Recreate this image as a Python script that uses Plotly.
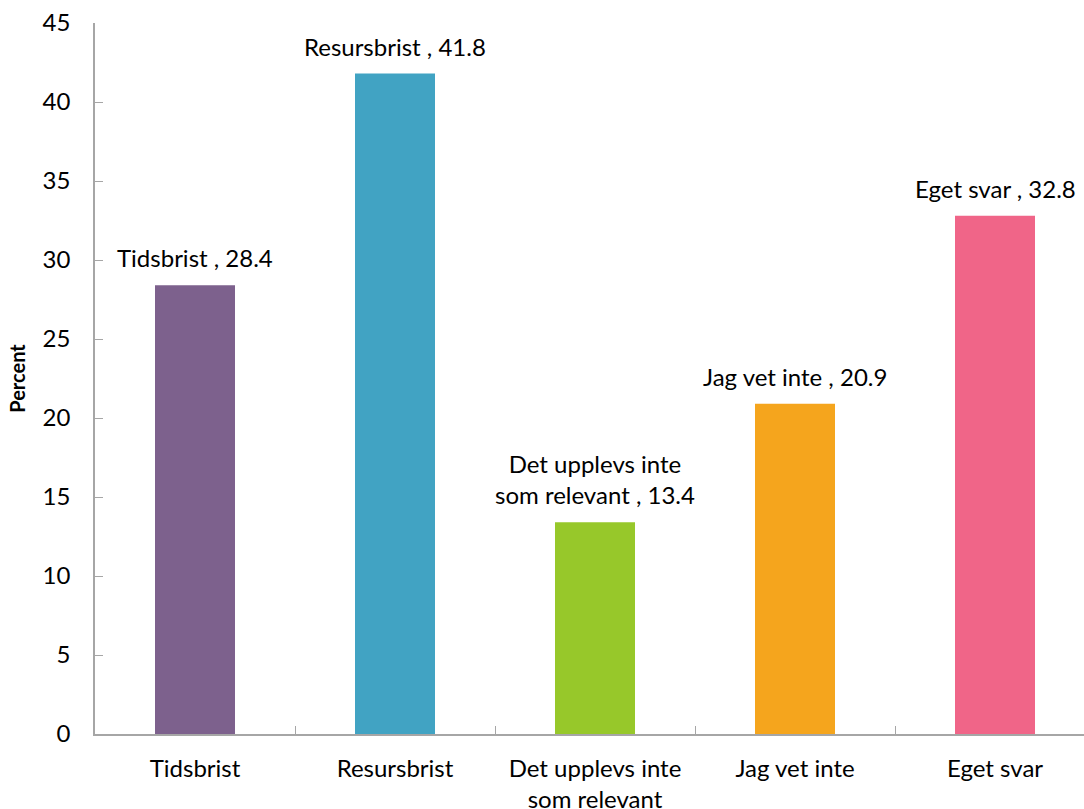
import plotly.graph_objects as go

categories = ["Tidsbrist", "Resursbrist", "Det upplevs inte<br>som relevant", "Jag vet inte", "Eget svar"]
label_names = ["Tidsbrist", "Resursbrist", "Det upplevs inte<br>som relevant", "Jag vet inte", "Eget svar"]
values = [28.4, 41.8, 13.4, 20.9, 32.8]
colors = ["#7D618D", "#41A3C3", "#97C82A", "#F5A51D", "#F06588"]

FONT = "Lato"

fig = go.Figure()
fig.add_trace(go.Bar(
    x=categories, y=values, marker=dict(color=colors, line=dict(width=0)),
    width=0.4, cliponaxis=False, showlegend=False,
))

for c, n, v in zip(categories, label_names, values):
    fig.add_annotation(
        x=c, y=v, text=f"{n} , {v}", showarrow=False, yanchor="bottom",
        yshift=11, font=dict(family=FONT, size=24, color="#000000"),
    )

fig.update_layout(
    width=1084, height=809,
    margin=dict(l=95, r=0, t=23, b=75, autoexpand=False),
    paper_bgcolor="white", plot_bgcolor="white",
    font=dict(family=FONT, size=24, color="#000000"),
    xaxis=dict(
        range=[-0.5, 4.445], showgrid=False, showline=True, linecolor="#A6A6A6", linewidth=1.5,
        ticks="inside", ticklen=8, tickcolor="#A6A6A6", tickson="boundaries",
        ticklabelstandoff=12, tickfont=dict(family=FONT, size=24), automargin=False,
    ),
    yaxis=dict(
        range=[0, 45], dtick=5, showgrid=False, showline=True, linecolor="#A6A6A6", linewidth=1.5,
        ticks="inside", ticklen=8, tickcolor="#A6A6A6", zeroline=False,
        ticklabelstandoff=18, tickfont=dict(family=FONT, size=24), automargin=False,
        title=dict(text="<b>Percent</b>", font=dict(family=FONT, size=20), standoff=12),
    ),
)

fig.write_html("out.html")
